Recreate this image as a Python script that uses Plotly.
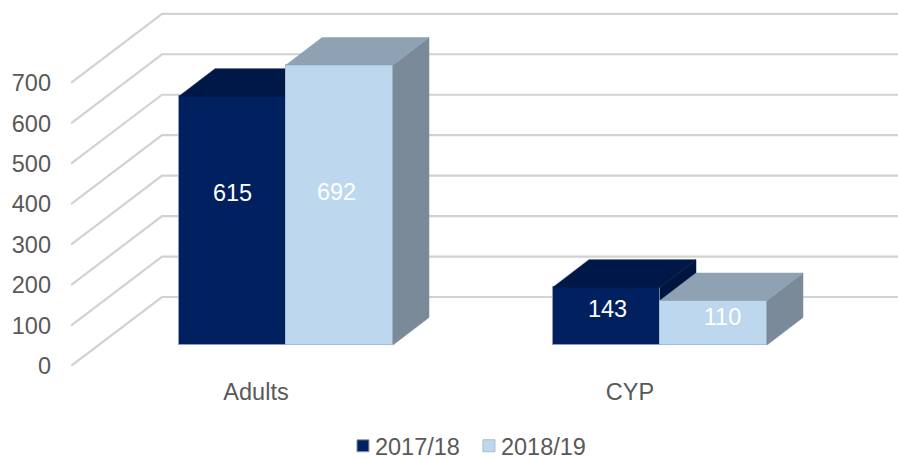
import plotly.graph_objects as go

categories = ["Adults", "CYP"]
series_names = ["2017/18", "2018/19"]
values_2017_18 = [615, 143]
values_2018_19 = [692, 110]
tick_values = [0, 100, 200, 300, 400, 500, 600, 700]

W, H = 898, 459
M_L, M_R, M_T, M_B = 71, 0, 10, 93
PX_PER_CAT = 374.0
PX_PER_VAL = (H - M_T - M_B) / 880.0
CAT0 = 256
X_RANGE = [(M_L - CAT0) / PX_PER_CAT, (W - M_R - CAT0) / PX_PER_CAT]
Y_RANGE = [0, 880]

def dx(px):
    return px / PX_PER_CAT

def dy(px):
    return px / PX_PER_VAL

WALL_DX, WALL_DY = dx(91), dy(69)
BAR_SHIFT_X, BAR_BASE = dx(30), dy(21)
BAR_DEPTH_X, BAR_DEPTH_Y = dx(36), dy(27.5)
BAR_W = dx(107)
FONT = "Liberation Sans, Arial, sans-serif"
FS = 23.5
TXT = "#595959"

styles = [
    dict(front="#002060", top="#001848", side="#001440", edge="#8f9db5", side_sign=-1),
    dict(front="#BDD7EE", top="#8EA2B3", side="#7A8A99", edge="#a9bccd", side_sign=1),
]
label_nudges = [[(0, 25), (1, 5)], [(-3, 11), (9, 4)]]

fig = go.Figure()
all_values = [values_2017_18, values_2018_19]
for s, (name, vals, st) in enumerate(zip(series_names, all_values, styles)):
    xa, ya = ("x", "y") if s == 0 else ("x2", "y2")
    sign = st["side_sign"]
    centers = [i + BAR_SHIFT_X + sign * BAR_W / 2 for i in range(len(vals))]
    fig.add_trace(go.Bar(
        x=centers, y=vals, base=[BAR_BASE] * len(vals), width=BAR_W, name=name,
        marker=dict(color=st["front"], line=dict(color=st["edge"], width=1)),
        xaxis=xa, yaxis=ya, hoverinfo="y",
    ))
    for c, v in zip(centers, vals):
        x0, x1 = c - BAR_W / 2, c + BAR_W / 2
        t = BAR_BASE + v
        fig.add_trace(go.Scatter(
            x=[x1, x1 + BAR_DEPTH_X, x1 + BAR_DEPTH_X, x1, x1],
            y=[BAR_BASE, BAR_BASE + BAR_DEPTH_Y, t + BAR_DEPTH_Y, t, BAR_BASE],
            fill="toself", fillcolor=st["side"], mode="lines",
            line=dict(color=st["side"], width=0.5), showlegend=False, hoverinfo="skip",
            xaxis=xa, yaxis=ya,
        ))
        fig.add_trace(go.Scatter(
            x=[x0, x0 + BAR_DEPTH_X, x1 + BAR_DEPTH_X, x1, x0],
            y=[t, t + BAR_DEPTH_Y, t + BAR_DEPTH_Y, t, t],
            fill="toself", fillcolor=st["top"], mode="lines",
            line=dict(color=st["top"], width=0.5), showlegend=False, hoverinfo="skip",
            xaxis=xa, yaxis=ya,
        ))
    fig.add_trace(go.Scatter(
        x=[c + dx(n[0]) for c, n in zip(centers, label_nudges[s])],
        y=[BAR_BASE + v / 2 + dy(n[1]) for v, n in zip(vals, label_nudges[s])],
        text=[str(v) for v in vals], mode="text",
        textfont=dict(color="white", size=FS, family=FONT),
        showlegend=False, hoverinfo="skip", xaxis=xa, yaxis=ya,
    ))

shapes = []
for v in tick_values:
    path = f"M{X_RANGE[0]},{v} L{X_RANGE[0] + WALL_DX},{v + WALL_DY} L{X_RANGE[1]},{v + WALL_DY}"
    shapes.append(dict(type="path", path=path, xref="x", yref="y", layer="below",
                       line=dict(color="#d2d2d2", width=2.2)))

fig.update_layout(
    width=W, height=H, autosize=False,
    margin=dict(l=M_L, r=M_R, t=M_T, b=M_B, pad=0),
    paper_bgcolor="white", plot_bgcolor="white",
    font=dict(family=FONT, size=FS, color=TXT),
    shapes=shapes,
    bargap=0,
    legend=dict(orientation="h", xref="container", yref="container",
                x=0.373, xanchor="left", y=0, yanchor="bottom",
                font=dict(size=FS, color=TXT, family=FONT), itemwidth=30,
                entrywidth=81, entrywidthmode="pixels", traceorder="normal"),
    xaxis=dict(range=X_RANGE, tickmode="array", tickvals=list(range(len(categories))),
               ticktext=categories, showgrid=False, zeroline=False, showline=False,
               ticks="", ticklabelstandoff=9, tickfont=dict(size=FS, color=TXT)),
    yaxis=dict(range=Y_RANGE, tickmode="array", tickvals=tick_values, showgrid=False,
               zeroline=False, showline=False, ticks="", ticklabelstandoff=19,
               tickfont=dict(size=FS, color=TXT)),
    xaxis2=dict(matches="x", overlaying="x", visible=False),
    yaxis2=dict(matches="y", overlaying="y", visible=False),
)
post = """
document.documentElement.style.margin = '0';
document.body.style.margin = '0';
document.querySelectorAll('.legendsymbols').forEach(function (g) {
  g.setAttribute('transform', 'translate(8,0)');
});
document.querySelectorAll('.legend').forEach(function (g) {
  var m = /translate\\(([-\\d.]+),\\s*([-\\d.]+)\\)/.exec(g.getAttribute('transform') || '');
  if (m) {
    g.setAttribute('transform', 'translate(' + m[1] + ',' + (parseFloat(m[2]) + 9) + ')');
  }
});
"""
fig.write_html("out.html", config=dict(displayModeBar=False), post_script=post)
